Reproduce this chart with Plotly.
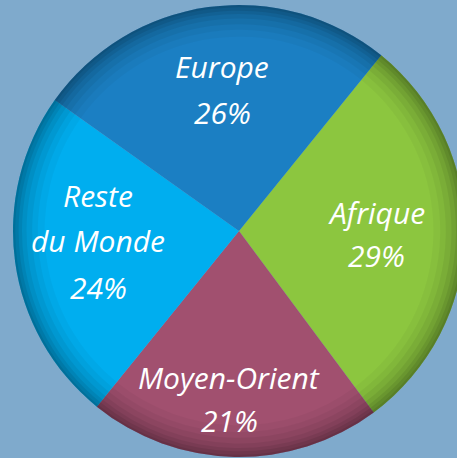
import plotly.graph_objects as go

# Data (clockwise from the Europe/Afrique boundary)
labels = ["Afrique", "Moyen-Orient", "Reste du Monde", "Europe"]
label_lines = [["Afrique"], ["Moyen-Orient"], ["Reste", "du Monde"], ["Europe"]]
values = [29, 21, 24, 26]
colors = ["#8cc63f", "#a1506f", "#00aeef", "#1b7fc3"]

BG = "#7faacc"
W, H = 472, 458   # canvas a bit wider than the window so the pie is cropped on the right

# pie geometry (pixels): center (239, 231), radius 226
dom_x = [13 / W, 465 / W]
dom_y = [(H - 457) / H, (H - 5) / H]

fig = go.Figure()
fig.add_trace(go.Pie(
    labels=labels, values=values, sort=False, direction="clockwise",
    rotation=39, marker=dict(colors=colors, line=dict(width=0)),
    textinfo="none", hoverinfo="label+percent",
    domain=dict(x=dom_x, y=dom_y), showlegend=False,
))

# rim shading rings (bevel effect)
rings = [(0.86, 0.03), (0.89, 0.04), (0.915, 0.05), (0.94, 0.06), (0.96, 0.07), (0.975, 0.08), (0.99, 0.08)]
for hole, a in rings:
    fig.add_trace(go.Pie(
        labels=labels, values=values, sort=False, direction="clockwise",
        rotation=39, hole=hole,
        marker=dict(colors=[f"rgba(0,0,0,{a})"] * len(values), line=dict(width=0)),
        textinfo="none", hoverinfo="skip",
        domain=dict(x=dom_x, y=dom_y), showlegend=False,
    ))

# label anchor positions in pixels (center x, baseline y of each line)
anchors = {
    "Afrique": (376, [222, 265]),
    "Moyen-Orient": (229, [387, 430]),
    "Reste du Monde": (98, [205, 250, 297]),
    "Europe": (222, [76, 122]),
}
FS = 30
total = sum(values)
for lab, lines, v in zip(labels, label_lines, values):
    cx, bases = anchors[lab]
    texts = lines + [f"{round(100 * v / total)}%"]
    for t, by in zip(texts, bases):
        fig.add_annotation(
            x=cx / W, y=1 - (by - 0.33 * FS) / H, xref="paper", yref="paper",
            xanchor="center", yanchor="middle", showarrow=False,
            text=f"<i>{t}</i>",
            font=dict(family="Open Sans", size=FS, color="white"),
        )

fig.update_layout(
    width=W, height=H, margin=dict(l=0, r=0, t=0, b=0),
    paper_bgcolor=BG, plot_bgcolor=BG, showlegend=False,
)
fig.write_html(
    "out.html",
    config={"displayModeBar": False},
    post_script="document.body.style.margin='0';document.body.style.overflow='hidden';",
)
